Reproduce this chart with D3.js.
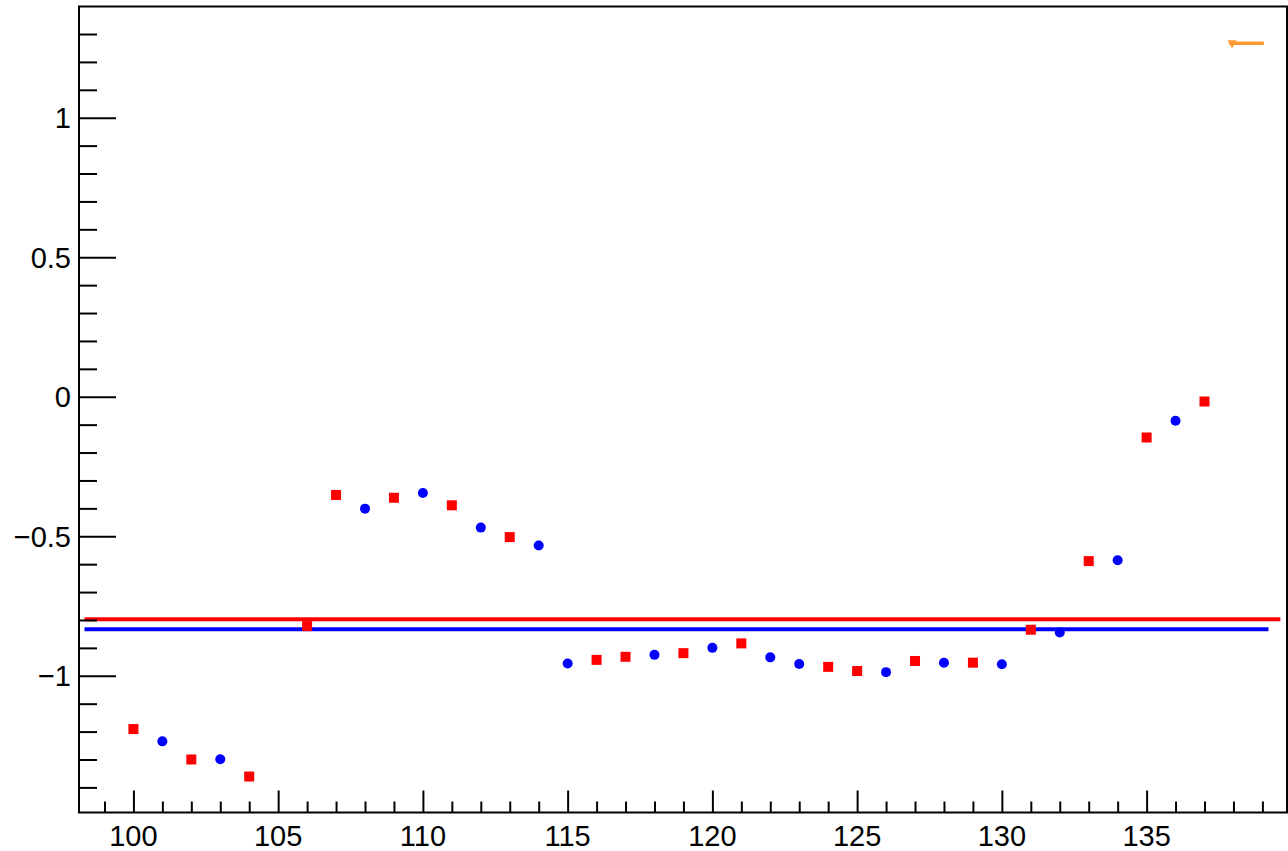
<!DOCTYPE html>
<html><head><meta charset="utf-8">
<script src="https://cdn.jsdelivr.net/npm/d3@7"></script>
<style>body{margin:0;background:#fff;}svg{display:block;}text{font-family:"Liberation Sans",Arial,sans-serif;}</style>
</head><body>
<script>
// data
const redX = [100,102,104,106,107,109,111,113,116,117,119,121,124,125,127,129,131,133,135,137];
const redY = [-1.191,-1.300,-1.361,-0.822,-0.352,-0.362,-0.389,-0.503,-0.943,-0.932,-0.919,-0.884,-0.968,-0.983,-0.947,-0.953,-0.835,-0.589,-0.146,-0.017];
const blueX = [101,103,108,110,112,114,115,118,120,122,123,126,128,130,132,134,136];
const blueY = [-1.235,-1.299,-0.401,-0.345,-0.469,-0.533,-0.956,-0.925,-0.900,-0.934,-0.958,-0.987,-0.953,-0.959,-0.845,-0.586,-0.086];
const redFitX = [98.31, 139.62];
const redFitY = -0.797;
const blueFitX = [98.31, 139.21];
const blueFitY = -0.833;
const orangeX = [137.85, 139.05];
const orangeY = 1.267;
const xMajorTicks = [100,105,110,115,120,125,130,135];
const yMajorTicks = [-1,-0.5,0,0.5,1];
const yTickLabels = ["\u22121","\u22120.5","0","0.5","1"];

const W = 1288, H = 851;
const L = 79, R = 1287, T = 6.5, B = 812.5;
const svg = d3.select("body").append("svg").attr("width", W).attr("height", H);
const x = d3.scaleLinear().domain([98.12, 139.85]).range([L, R]);
const y = d3.scaleLinear().domain([-1.490, 1.3986]).range([B, T]);

// frame
svg.append("rect").attr("x", L).attr("y", T).attr("width", R - L).attr("height", B - T)
  .attr("fill", "none").attr("stroke", "#000").attr("stroke-width", 2);

// fit lines
svg.append("line").attr("x1", x(redFitX[0])).attr("x2", x(redFitX[1]))
  .attr("y1", y(redFitY)).attr("y2", y(redFitY)).attr("stroke", "#ff0000").attr("stroke-width", 4);
svg.append("line").attr("x1", x(blueFitX[0])).attr("x2", x(blueFitX[1]))
  .attr("y1", y(blueFitY)).attr("y2", y(blueFitY)).attr("stroke", "#0000ff").attr("stroke-width", 4);

// x axis
const xMinor = d3.range(99, 140, 1).filter(v => !xMajorTicks.includes(v));
const xAxisMaj = d3.axisTop(x).tickValues(xMajorTicks).tickSize(22).tickFormat("");
const xAxisMin = d3.axisTop(x).tickValues(xMinor).tickSize(11).tickFormat("");
[xAxisMaj, xAxisMin].forEach(a => {
  const g = svg.append("g").attr("transform", `translate(0,${B})`).call(a);
  g.select(".domain").remove();
  g.selectAll("line").attr("stroke", "#000").attr("stroke-width", 2);
});
svg.append("g").selectAll("text").data(xMajorTicks).join("text")
  .attr("x", d => x(d)).attr("y", 846).attr("text-anchor", "middle")
  .attr("font-size", 29).text(d => d);

// y axis
const yMinor = d3.range(-14, 14, 1).map(v => v / 10).filter(v => !yMajorTicks.some(m => Math.abs(m - v) < 1e-9));
const yAxisMaj = d3.axisRight(y).tickValues(yMajorTicks).tickSize(37).tickFormat("");
const yAxisMin = d3.axisRight(y).tickValues(yMinor).tickSize(18).tickFormat("");
[yAxisMaj, yAxisMin].forEach(a => {
  const g = svg.append("g").attr("transform", `translate(${L},0)`).call(a);
  g.select(".domain").remove();
  g.selectAll("line").attr("stroke", "#000").attr("stroke-width", 2);
});
svg.append("g").selectAll("text").data(yMajorTicks).join("text")
  .attr("x", 71).attr("y", d => y(d) + 10.5).attr("text-anchor", "end")
  .attr("font-size", 29).text((d, i) => yTickLabels[i]);

// markers
svg.append("g").selectAll("rect").data(redX).join("rect")
  .attr("x", (d, i) => x(d) - 5).attr("y", (d, i) => y(redY[i]) - 5)
  .attr("width", 10).attr("height", 10).attr("fill", "#ff0000");
svg.append("g").selectAll("circle").data(blueX).join("circle")
  .attr("cx", d => x(d)).attr("cy", (d, i) => y(blueY[i])).attr("r", 5).attr("fill", "#0000ff");

// orange marker
svg.append("line").attr("x1", x(orangeX[0])).attr("x2", x(orangeX[1]))
  .attr("y1", y(orangeY)).attr("y2", y(orangeY)).attr("stroke", "#ff9933").attr("stroke-width", 3.5);
const ox = x(orangeX[0]) + 3, oy = y(orangeY);
svg.append("path").attr("d", `M${ox-4.5},${oy-3}L${ox+4.5},${oy-3}L${ox},${oy+5}Z`).attr("fill", "#ff9933");
</script>
</body></html>
